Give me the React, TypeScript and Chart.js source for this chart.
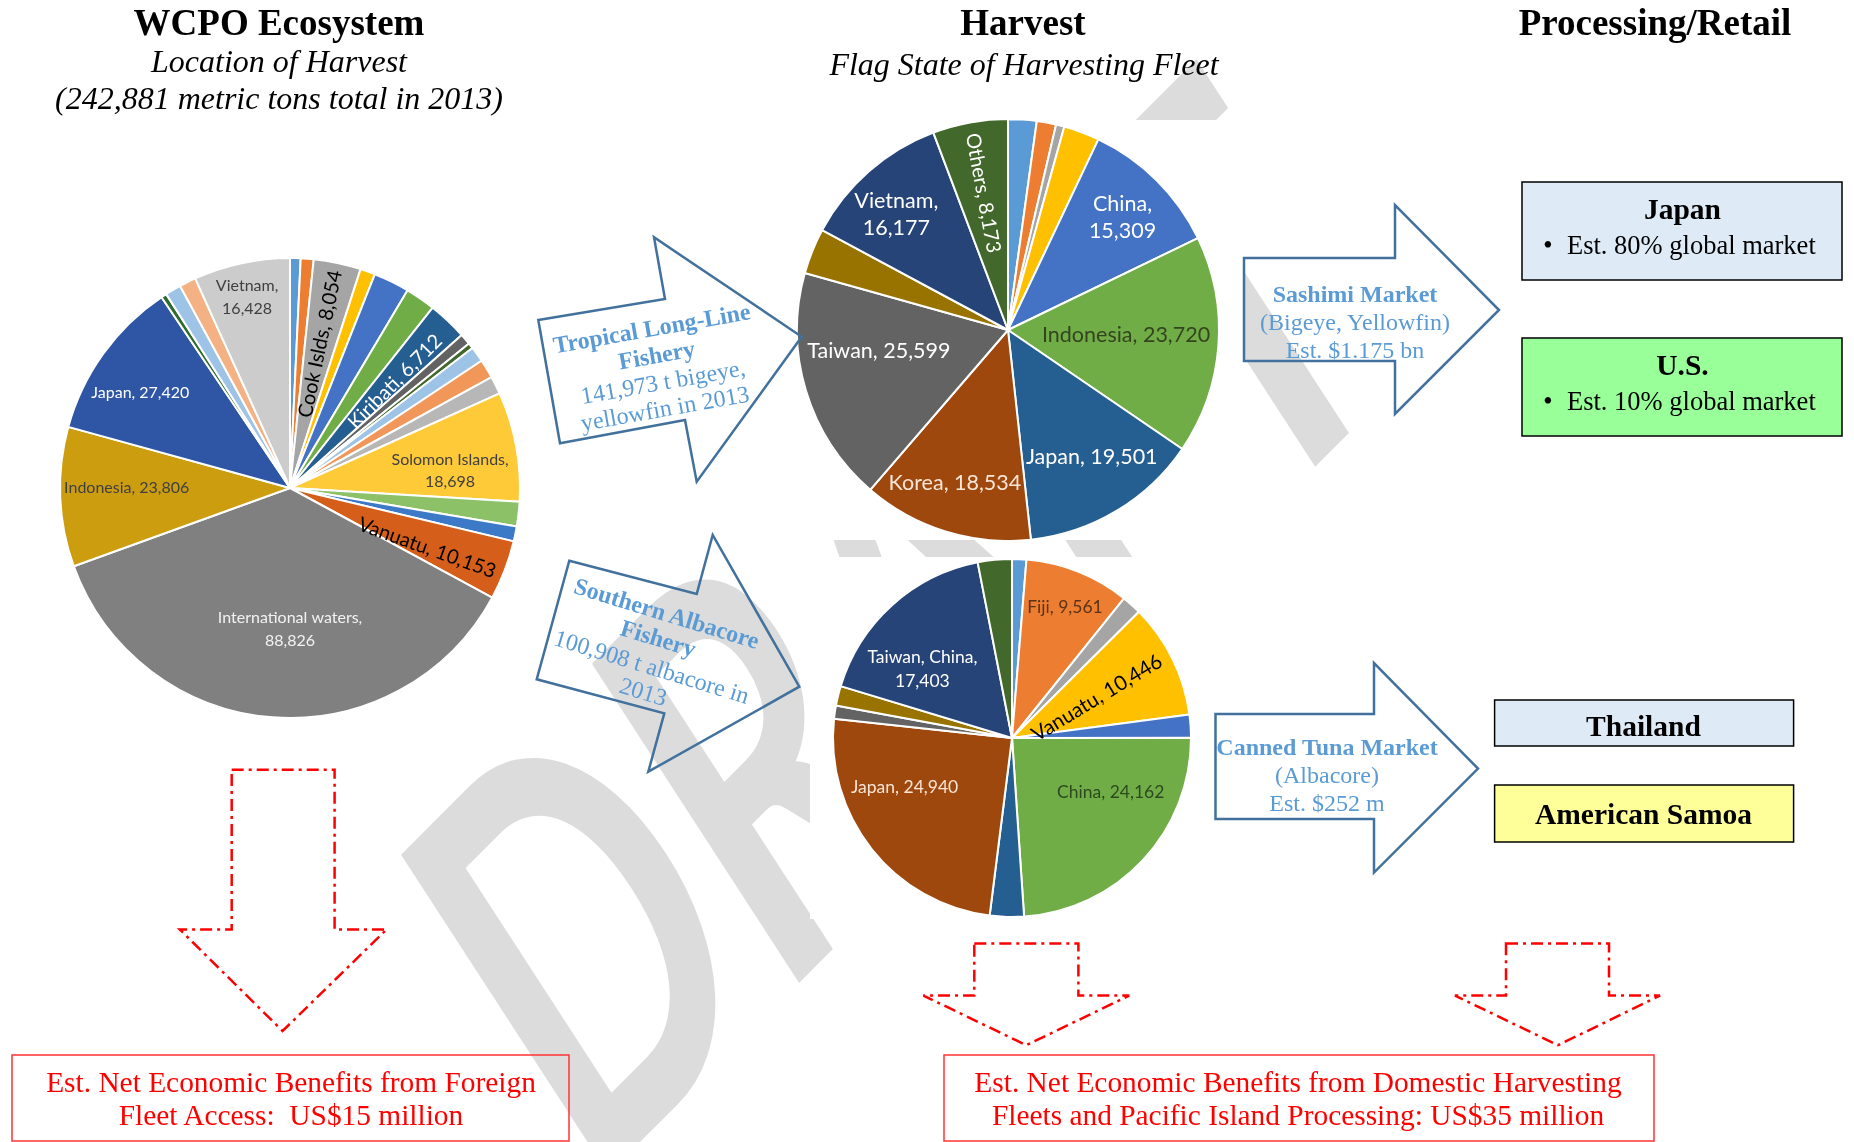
import React, { useEffect, useRef } from "react";
import { Chart, registerables } from "chart.js";

Chart.register(...registerables);

// ---------- Location of Harvest (WCPO ecosystem), metric tons 2013 ----------
const locCategories = [
  "(unlabelled 1)", "(unlabelled 2)", "Cook Islds", "(unlabelled 3)", "(unlabelled 4)", "(unlabelled 5)",
  "Kiribati", "(unlabelled 6)", "(unlabelled 7)", "(unlabelled 8)", "(unlabelled 9)", "(unlabelled 10)",
  "Solomon Islands", "(unlabelled 11)", "(unlabelled 12)", "Vanuatu", "International waters", "Indonesia",
  "Japan", "(unlabelled 13)", "(unlabelled 14)", "(unlabelled 15)", "Vietnam",
];
const locValues = [
  1800, 2200, 8054, 2560, 6130, 5130, 6712, 1890, 945, 2630, 3240, 3040,
  18698, 4180, 2560, 10153, 88826, 23806, 27420, 945, 2700, 2834, 16428,
];
const locColors = [
  "#5B9BD5", "#ED7D31", "#A5A5A5", "#FFC000", "#4472C4", "#70AD47", "#255E91", "#636363",
  "#43682B", "#9DC3E6", "#F1975A", "#B7B7B7", "#FFCA38", "#8CC168", "#3C7AC8", "#D55E1A",
  "#808080", "#CD9D10", "#2F55A5", "#2E6B30", "#9DC3E6", "#F4B183", "#CCCCCC",
];

// ---------- Tropical long-line fishery: flag state of harvesting fleet ----------
const llCategories = [
  "(unlabelled 1)", "(unlabelled 2)", "(unlabelled 3)", "(unlabelled 4)", "China", "Indonesia",
  "Japan", "Korea", "Taiwan", "(unlabelled 5)", "Vietnam", "Others",
];
const llValues = [3100, 2100, 900, 3900, 15309, 23720, 19501, 18534, 25599, 4960, 16177, 8173];
const llColors = [
  "#5B9BD5", "#ED7D31", "#A5A5A5", "#FFC000", "#4472C4", "#70AD47",
  "#255E91", "#9E480E", "#636363", "#997300", "#264478", "#43682B",
];

// ---------- Southern albacore fishery: flag state of harvesting fleet ----------
const alCategories = [
  "(unlabelled 1)", "Fiji", "(unlabelled 2)", "Vanuatu", "(unlabelled 3)", "China",
  "(unlabelled 4)", "Japan", "(unlabelled 5)", "(unlabelled 6)", "Taiwan, China", "(unlabelled 7)",
];
const alValues = [1300, 9561, 1800, 10446, 2100, 24162, 3100, 24940, 1200, 1800, 17403, 3100];
const alColors = [
  "#5B9BD5", "#ED7D31", "#A5A5A5", "#FFC000", "#4472C4", "#70AD47",
  "#255E91", "#9E480E", "#636363", "#997300", "#264478", "#43682B",
];

// ---------- label layout (style only) ----------
type LabelItem = {
  index: number; color: string; size: number; rf: number; lh?: number;
  dAng?: number; rot?: "out" | "in"; rotOff?: number; twoLine?: boolean;
};

const locLabels: LabelItem[] = [
  { index: 2, color: "#000000", size: 20, rf: 0.64, rot: "out" },
  { index: 6, color: "#ffffff", size: 20, rf: 0.65, rot: "out", dAng: 1.4 },
  { index: 12, color: "#404040", size: 16, rf: 0.7, dAng: 4.3, twoLine: true, lh: 1.4 },
  { index: 15, color: "#000000", size: 20, rf: 0.65, rot: "out", dAng: 2.7, rotOff: -4 },
  { index: 16, color: "#F2F2F2", size: 16, rf: 0.615, dAng: -4.3, twoLine: true, lh: 1.4 },
  { index: 17, color: "#404040", size: 16, rf: 0.71, dAng: 2.2 },
  { index: 18, color: "#ffffff", size: 16, rf: 0.77, dAng: -3.4 },
  { index: 22, color: "#404040", size: 16, rf: 0.85, dAng: -0.5, twoLine: true, lh: 1.4 },
];
const llLabels: LabelItem[] = [
  { index: 4, color: "#ffffff", size: 21.5, rf: 0.76, dAng: 0.8, twoLine: true },
  { index: 5, color: "#33441F", size: 21.5, rf: 0.56, dAng: -1.8 },
  { index: 6, color: "#ffffff", size: 21.5, rf: 0.72, dAng: -2.5 },
  { index: 7, color: "#FBE5D6", size: 21.5, rf: 0.77, dAng: 1.8 },
  { index: 8, color: "#ffffff", size: 21.5, rf: 0.62, dAng: 7.6 },
  { index: 10, color: "#ffffff", size: 21.5, rf: 0.76, dAng: -2.9, twoLine: true },
  { index: 11, color: "#ffffff", size: 20, rf: 0.66, rot: "in" },
];
const alLabels: LabelItem[] = [
  { index: 1, color: "#5C3317", size: 17.5, rf: 0.79, dAng: 0.3 },
  { index: 3, color: "#000000", size: 20.5, rf: 0.525, rot: "out", dAng: 1, rotOff: -6 },
  { index: 5, color: "#2D4A1F", size: 17.5, rf: 0.63, dAng: -14.1 },
  { index: 7, color: "#FBE5D6", size: 17.5, rf: 0.66, dAng: 13.7 },
  { index: 10, color: "#ffffff", size: 17.5, rf: 0.63, dAng: -10.5, twoLine: true, lh: 1.4 },
];

function makeLabelPlugin(items: LabelItem[]) {
  return {
    id: "sliceLabels",
    afterDatasetsDraw(chart: any) {
      const ctx = chart.ctx as CanvasRenderingContext2D;
      const meta = chart.getDatasetMeta(0);
      const names = chart.data.labels as string[];
      const vals = chart.data.datasets[0].data as number[];
      items.forEach((it) => {
        const arc = meta.data[it.index];
        const p = arc.getProps(["x", "y", "startAngle", "endAngle", "outerRadius"], true);
        const mid = (p.startAngle + p.endAngle) / 2 + ((it.dAng || 0) * Math.PI) / 180;
        const r = p.outerRadius * it.rf;
        const px = p.x + Math.cos(mid) * r;
        const py = p.y + Math.sin(mid) * r;
        const valStr = Number(vals[it.index]).toLocaleString("en-US");
        const lines = it.twoLine ? [names[it.index] + ",", valStr] : [names[it.index] + ", " + valStr];
        ctx.save();
        ctx.translate(px, py);
        const off = ((it.rotOff || 0) * Math.PI) / 180;
        if (it.rot === "out") ctx.rotate(mid + off);
        else if (it.rot === "in") ctx.rotate(mid + Math.PI + off);
        ctx.font = `${it.size}px Lato, "Noto Sans", sans-serif`;
        ctx.fillStyle = it.color;
        ctx.textAlign = "center";
        ctx.textBaseline = "middle";
        const lh = it.size * (it.lh || 1.25);
        lines.forEach((ln, i) => ctx.fillText(ln, 0, (i - (lines.length - 1) / 2) * lh));
        ctx.restore();
      });
    },
  };
}

type PieProps = {
  left: number; top: number; width: number; height: number; radius: number;
  labels: string[]; values: number[]; colors: string[]; layout: LabelItem[];
};

function Pie({ left, top, width, height, radius, labels, values, colors, layout }: PieProps) {
  const ref = useRef<HTMLCanvasElement>(null);
  useEffect(() => {
    const chart = new Chart(ref.current as HTMLCanvasElement, {
      type: "pie",
      data: {
        labels,
        datasets: [{ data: values, backgroundColor: colors, borderColor: "#ffffff", borderWidth: 2 }],
      },
      options: {
        responsive: false,
        animation: false,
        radius,
        layout: { padding: 0 },
        plugins: { legend: { display: false }, tooltip: { enabled: false } },
      } as any,
      plugins: [makeLabelPlugin(layout)],
    });
    return () => chart.destroy();
  }, []);
  return (
    <div style={{ position: "absolute", left, top, width, height, background: "#ffffff", zIndex: 1 }}>
      <canvas ref={ref} width={width} height={height} style={{ display: "block" }} />
    </div>
  );
}

const SERIF = "'Liberation Serif', 'Times New Roman', serif";
const BLUE_TXT = "#5B9BD5";
const BLUE_LINE = "#41719C";
const RED = "#FF0000";

function T(props: {
  x: number; y: number; size: number; bold?: boolean; italic?: boolean; fill?: string;
  anchor?: "start" | "middle" | "end"; children: any; transform?: string; central?: boolean;
}) {
  return (
    <text
      x={props.x}
      y={props.y}
      fontSize={props.size}
      fontFamily={SERIF}
      fontWeight={props.bold ? 700 : 400}
      fontStyle={props.italic ? "italic" : "normal"}
      fill={props.fill || "#000"}
      textAnchor={props.anchor || "middle"}
      dominantBaseline={props.central ? "central" : "alphabetic"}
      transform={props.transform}
      style={{ whiteSpace: "pre" }}
    >
      {props.children}
    </text>
  );
}

function RotLines({ lines, angle }: { lines: { x: number; y: number; text: string; bold: boolean }[]; angle: number }) {
  return (
    <g>
      {lines.map((l, i) => (
        <T key={i} x={0} y={0} size={24} bold={l.bold} fill={BLUE_TXT} central transform={`translate(${l.x},${l.y}) rotate(${angle})`}>
          {l.text}
        </T>
      ))}
    </g>
  );
}

function downArrow(sl: number, sr: number, top: number, base: number, hl: number, hr: number, tx: number, ty: number) {
  return `${sl},${top} ${sr},${top} ${sr},${base} ${hr},${base} ${tx},${ty} ${hl},${base} ${sl},${base}`;
}

export default function App() {
  return (
    <div style={{ position: "absolute", left: 0, top: 0, width: 1854, height: 1142, background: "#ffffff", overflow: "hidden" }}>
      {/* DRAFT watermark */}
      <svg width={1854} height={1142} style={{ position: "absolute", left: 0, top: 0, zIndex: 0 }}>
        <text
          x={0}
          y={0}
          fontFamily="Lato, 'Liberation Sans', sans-serif"
          fontWeight={700}
          fontSize={355}
          fill="#DCDCDC"
          transform="translate(588,1194) rotate(-45) skewX(-12) scale(1,1.45)"
        >
          DRAFT
        </text>
      </svg>

      <Pie left={45} top={243} width={490} height={490} radius={230}
        labels={locCategories} values={locValues} colors={locColors} layout={locLabels} />
      <Pie left={772} top={120} width={472} height={420} radius={211}
        labels={llCategories} values={llValues} colors={llColors} layout={llLabels} />
      <Pie left={810} top={557} width={404} height={362} radius={179}
        labels={alCategories} values={alValues} colors={alColors} layout={alLabels} />

      <svg width={1854} height={1142} style={{ position: "absolute", left: 0, top: 0, zIndex: 2 }}>
        {/* column titles */}
        <T x={279} y={35} size={37} bold>WCPO Ecosystem</T>
        <T x={279} y={72} size={32} italic>Location of Harvest</T>
        <T x={279} y={108.5} size={32} italic>(242,881 metric tons total in 2013)</T>
        <T x={1023} y={35} size={37} bold>Harvest</T>
        <T x={1024} y={75} size={32} italic>Flag State of Harvesting Fleet</T>
        <T x={1655} y={35} size={37} bold>Processing/Retail</T>

        {/* fishery arrows */}
        <polygon points="538.3,320 665,299 654,237.3 801.7,336.7 696.7,481.7 685,420 560,443.3"
          fill="none" stroke={BLUE_LINE} strokeWidth={2.5} strokeLinejoin="miter" />
        <RotLines angle={-10} lines={[
          { x: 651.7, y: 328.3, text: "Tropical Long-Line", bold: true },
          { x: 656.7, y: 355, text: "Fishery", bold: true },
          { x: 663, y: 381.7, text: "141,973 t bigeye,", bold: false },
          { x: 665, y: 408.3, text: "yellowfin in 2013", bold: false },
        ]} />
        <polygon points="569.3,560.7 696.7,594 712.7,535 799.3,686.7 648.3,771.7 664.3,713.3 536.7,679.3"
          fill="none" stroke={BLUE_LINE} strokeWidth={2.5} />
        <RotLines angle={17} lines={[
          { x: 666.7, y: 613.3, text: "Southern Albacore", bold: true },
          { x: 658.3, y: 638.3, text: "Fishery", bold: true },
          { x: 651.7, y: 666.7, text: "100,908 t albacore in", bold: false },
          { x: 643.3, y: 691.7, text: "2013", bold: false },
        ]} />

        {/* market arrows */}
        <polygon points="1244,258 1395,258 1395,205 1499,310 1395,414 1395,361 1244,361"
          fill="none" stroke={BLUE_LINE} strokeWidth={2.5} />
        <T x={1355} y={302} size={24} bold fill={BLUE_TXT}>Sashimi Market</T>
        <T x={1355} y={330} size={24} fill={BLUE_TXT}>(Bigeye, Yellowfin)</T>
        <T x={1355} y={358} size={24} fill={BLUE_TXT}>Est. $1.175 bn</T>

        <polygon points="1215.5,714 1374,714 1374,663 1478,768.6 1374,872.6 1374,819 1215.5,819"
          fill="none" stroke={BLUE_LINE} strokeWidth={2.5} />
        <T x={1327} y={755} size={24} bold fill={BLUE_TXT}>Canned Tuna Market</T>
        <T x={1327} y={782.5} size={24} fill={BLUE_TXT}>(Albacore)</T>
        <T x={1327} y={811} size={24} fill={BLUE_TXT}>Est. $252 m</T>

        {/* market boxes */}
        <rect x={1522} y={182} width={320} height={98} fill="#DEEBF7" stroke="#000" strokeWidth={1.5} />
        <T x={1682.5} y={219} size={29.5} bold>Japan</T>
        <T x={1548} y={254} size={26.5}>•</T>
        <T x={1567} y={254} size={26.5} anchor="start">Est. 80% global market</T>

        <rect x={1522} y={338} width={320} height={98} fill="#99FF99" stroke="#000" strokeWidth={1.5} />
        <T x={1682.5} y={375} size={29.5} bold>U.S.</T>
        <T x={1548} y={410} size={26.5}>•</T>
        <T x={1567} y={410} size={26.5} anchor="start">Est. 10% global market</T>

        <rect x={1494.6} y={700} width={299} height={46} fill="#DEEBF7" stroke="#000" strokeWidth={1.5} />
        <T x={1643.5} y={736} size={29.5} bold>Thailand</T>
        <rect x={1494.6} y={785} width={299} height={57} fill="#FFFF99" stroke="#000" strokeWidth={1.5} />
        <T x={1643.5} y={823.5} size={29.5} bold>American Samoa</T>

        {/* red dash-dot arrows */}
        <polygon points={downArrow(231.7, 334.6, 769.7, 929.4, 179.7, 386.6, 282.6, 1031)}
          fill="none" stroke={RED} strokeWidth={2.5} strokeDasharray="12 5 3 5" />
        <polygon points={downArrow(974.3, 1078.4, 943.6, 995.6, 923.4, 1129.2, 1026.3, 1045.2)}
          fill="none" stroke={RED} strokeWidth={2.5} strokeDasharray="12 5 3 5" />
        <polygon points={downArrow(1506, 1609, 943.6, 995.6, 1455, 1660, 1558, 1045.2)}
          fill="none" stroke={RED} strokeWidth={2.5} strokeDasharray="12 5 3 5" />

        {/* benefit boxes */}
        <rect x={12} y={1055} width={557} height={86} fill="none" stroke="#FF3333" strokeWidth={1.5} />
        <T x={291} y={1091.5} size={29.4} fill={RED}>Est. Net Economic Benefits from Foreign</T>
        <T x={291} y={1124.5} size={29.4} fill={RED}>Fleet Access:  US$15 million</T>

        <rect x={944} y={1055} width={710} height={86} fill="none" stroke="#FF3333" strokeWidth={1.5} />
        <T x={1298} y={1091.5} size={29.4} fill={RED}>Est. Net Economic Benefits from Domestic Harvesting</T>
        <T x={1298} y={1124.5} size={29.4} fill={RED}>Fleets and Pacific Island Processing: US$35 million</T>
      </svg>
    </div>
  );
}
